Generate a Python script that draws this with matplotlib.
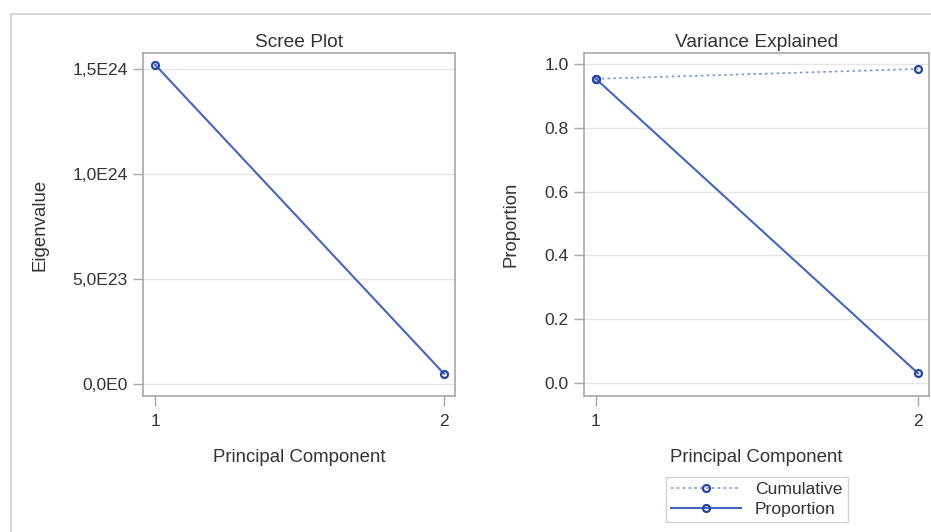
import matplotlib
matplotlib.use("Agg")
import matplotlib.pyplot as plt
from matplotlib.patches import Rectangle

plt.rcParams['font.family'] = ['Liberation Sans', 'DejaVu Sans']

components = [1, 2]
eigenvalues = [1.52e24, 0.049e24]
proportion = [0.953, 0.031]
cumulative = [0.953, 0.984]
eig_ticks = [0, 5e23, 1e24, 1.5e24]
eig_tick_labels = ["0,0E0", "5,0E23", "1,0E24", "1,5E24"]
prop_ticks = [0.0, 0.2, 0.4, 0.6, 0.8, 1.0]
prop_tick_labels = ["0.0", "0.2", "0.4", "0.6", "0.8", "1.0"]

W, H = 931, 532
fig = plt.figure(figsize=(W / 100, H / 100), dpi=100)
fig.patch.set_facecolor('white')

# outer frame (partially visible)
fig.add_artist(Rectangle((10.5 / W, -0.1), 1.2, (H - 13.5) / H + 0.1,
                         transform=fig.transFigure, fill=False,
                         edgecolor='#d0d0d0', linewidth=1.2))

line_c = '#4466c0'
mk_edge = '#2244a8'
spine_c = '#a8a8a8'
grid_c = '#e6e6e6'
txt_c = '#333333'
TICK_FS = 12.6
LAB_FS = 13.4
TITLE_FS = 13.8

def ax_rect(x0, x1, y0, y1):
    return [x0 / W, 1 - y1 / H, (x1 - x0) / W, (y1 - y0) / H]

def style(ax):
    for s in ax.spines.values():
        s.set_color(spine_c)
        s.set_linewidth(1.2)
    ax.tick_params(axis='both', colors=spine_c, labelcolor=txt_c,
                   labelsize=TICK_FS, length=7, width=1.0, direction='out')
    ax.tick_params(axis='x', pad=6)
    ax.tick_params(axis='y', pad=4)
    ax.grid(axis='y', color=grid_c, linewidth=1.0)
    ax.set_axisbelow(True)

ax1 = fig.add_axes(ax_rect(143, 455, 53, 396))
ax1.plot(components, eigenvalues, color=line_c, linewidth=1.5,
         marker='o', markersize=5, markerfacecolor='none',
         markeredgecolor=mk_edge, markeredgewidth=1.6)
ax1.set_xlim(0.958, 2.038)
ax1.set_ylim(-0.057e24, 1.576e24)
ax1.set_xticks(components)
ax1.set_xticklabels([str(c) for c in components])
ax1.set_yticks(eig_ticks)
ax1.set_yticklabels(eig_tick_labels)
style(ax1)
ax1.set_title("Scree Plot", fontsize=TITLE_FS, color=txt_c, pad=4)
ax1.set_xlabel("Principal Component", fontsize=LAB_FS, color=txt_c, labelpad=14)
ax1.set_ylabel("Eigenvalue", fontsize=LAB_FS, color=txt_c, labelpad=17)

ax2 = fig.add_axes(ax_rect(584, 929, 53, 396))
ax2.plot(components, cumulative, color='#7a94d8', linewidth=1.2,
         linestyle=(0, (1.5, 2)), marker='o', markersize=5,
         markerfacecolor='none', markeredgecolor=mk_edge,
         markeredgewidth=1.6, label='Cumulative')
ax2.plot(components, proportion, color=line_c, linewidth=1.5,
         marker='o', markersize=5, markerfacecolor='none',
         markeredgecolor=mk_edge, markeredgewidth=1.6, label='Proportion')
ax2.set_xlim(0.963, 2.034)
ax2.set_ylim(-0.04, 1.034)
ax2.set_xticks(components)
ax2.set_xticklabels([str(c) for c in components])
ax2.set_yticks(prop_ticks)
ax2.set_yticklabels(prop_tick_labels)
style(ax2)
ax2.set_title("Variance Explained", fontsize=TITLE_FS, color=txt_c, pad=4)
ax2.set_xlabel("Principal Component", fontsize=LAB_FS, color=txt_c, labelpad=14)
ax2.set_ylabel("Proportion", fontsize=LAB_FS, color=txt_c, labelpad=18)

leg = fig.legend(loc='center', bbox_to_anchor=(756.5 / W, 1 - 499.5 / H),
                 frameon=True, fontsize=12.6, handlelength=4.0,
                 borderpad=0.3, labelspacing=0.25, handletextpad=0.8,
                 borderaxespad=0.0, fancybox=False)
leg.get_frame().set_edgecolor('#c8c8c8')
leg.get_frame().set_linewidth(1.0)
for t in leg.get_texts():
    t.set_color(txt_c)

fig.savefig("out.png", dpi=100, facecolor='white')
